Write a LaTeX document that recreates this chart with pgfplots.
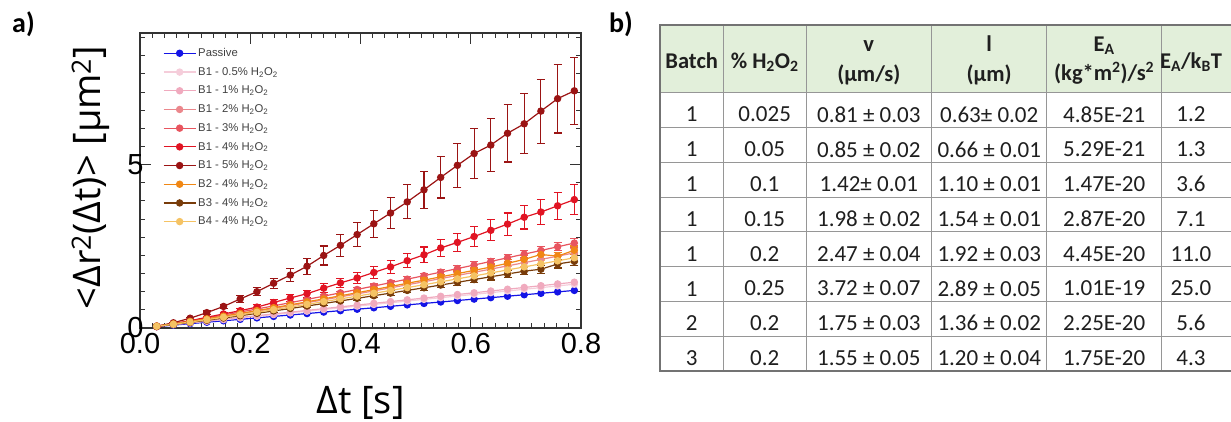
\documentclass[border=0pt]{standalone}
\usepackage{pgfplots}
\pgfplotsset{compat=1.18}
\usepackage{pgfplotstable}
\usepackage{fontspec}
\setmainfont{Carlito}
\newfontfamily\helv{Liberation Sans}
\newfontfamily\osans{Open Sans}

\definecolor{cpas}{RGB}{20,20,230}
\definecolor{cp05}{RGB}{245,205,218}
\definecolor{cp1}{RGB}{240,170,190}
\definecolor{cp2}{RGB}{235,135,140}
\definecolor{cp3}{RGB}{232,85,95}
\definecolor{cp4}{RGB}{225,20,35}
\definecolor{cp5}{RGB}{155,20,20}
\definecolor{cb2}{RGB}{240,135,20}
\definecolor{cb3}{RGB}{120,60,10}
\definecolor{cb4}{RGB}{245,195,100}
\definecolor{hdr}{RGB}{226,239,218}
\definecolor{grid}{RGB}{150,150,150}

\pgfplotstableread{
t pas p05 p1 p2 p3 p4 e4 p5 e5 b2 b3 b4 ec
0.0303 0.044 0.052 0.054 0.056 0.063 0.040 0.010 0.050 0.010 0.058 0.049 0.052 0.005
0.0606 0.088 0.103 0.108 0.124 0.140 0.120 0.015 0.160 0.020 0.128 0.107 0.115 0.007
0.0909 0.133 0.155 0.162 0.196 0.222 0.220 0.025 0.300 0.035 0.203 0.171 0.183 0.011
0.1212 0.177 0.206 0.216 0.272 0.308 0.330 0.035 0.470 0.050 0.282 0.237 0.255 0.015
0.1515 0.221 0.258 0.270 0.351 0.397 0.430 0.045 0.660 0.070 0.363 0.305 0.328 0.020
0.1818 0.265 0.309 0.324 0.432 0.489 0.530 0.060 0.890 0.100 0.447 0.376 0.404 0.024
0.2121 0.310 0.361 0.378 0.515 0.582 0.640 0.070 1.110 0.120 0.533 0.448 0.482 0.029
0.2424 0.354 0.412 0.431 0.600 0.678 0.780 0.085 1.370 0.150 0.621 0.522 0.561 0.034
0.2727 0.398 0.464 0.485 0.686 0.776 0.920 0.100 1.620 0.200 0.710 0.597 0.641 0.039
0.3030 0.442 0.515 0.539 0.774 0.875 1.050 0.110 1.890 0.250 0.801 0.673 0.723 0.044
0.3333 0.487 0.567 0.593 0.863 0.975 1.220 0.130 2.220 0.290 0.893 0.750 0.806 0.049
0.3636 0.531 0.618 0.647 0.953 1.077 1.380 0.140 2.530 0.330 0.986 0.828 0.891 0.054
0.3939 0.575 0.670 0.701 1.044 1.180 1.530 0.160 2.860 0.370 1.080 0.908 0.976 0.059
0.4242 0.619 0.721 0.755 1.136 1.284 1.700 0.180 3.190 0.420 1.175 0.988 1.062 0.064
0.4545 0.664 0.773 0.809 1.229 1.389 1.870 0.200 3.520 0.470 1.271 1.068 1.149 0.069
0.4848 0.708 0.824 0.863 1.323 1.495 2.060 0.220 3.860 0.520 1.369 1.150 1.236 0.075
0.5152 0.752 0.876 0.917 1.417 1.602 2.240 0.240 4.230 0.570 1.466 1.232 1.325 0.080
0.5455 0.796 0.927 0.971 1.512 1.710 2.450 0.250 4.610 0.630 1.565 1.315 1.414 0.085
0.5758 0.841 0.979 1.025 1.609 1.818 2.620 0.280 4.980 0.680 1.665 1.399 1.504 0.090
0.6061 0.885 1.030 1.079 1.705 1.928 2.800 0.300 5.340 0.760 1.765 1.483 1.594 0.096
0.6364 0.929 1.082 1.133 1.803 2.038 2.990 0.320 5.600 0.820 1.866 1.568 1.685 0.100
0.6667 0.973 1.133 1.187 1.901 2.149 3.180 0.340 5.960 0.880 1.980 1.653 1.777 0.107
0.6970 1.018 1.185 1.241 2.000 2.261 3.390 0.360 6.250 0.920 2.100 1.739 1.870 0.113
0.7273 1.062 1.236 1.295 2.099 2.373 3.550 0.380 6.640 0.980 2.250 1.800 1.963 0.119
0.7576 1.106 1.288 1.349 2.199 2.486 3.740 0.410 7.020 1.050 2.200 1.960 2.056 0.124
0.7879 1.150 1.339 1.402 2.300 2.600 3.930 0.450 7.260 1.030 2.380 2.040 2.150 0.130
}\msd

\tikzset{cell/.style={font=\fontsize{23}{23}\selectfont, text=black!88, inner sep=0pt, anchor=center},
  hcell/.style={font=\bfseries\fontsize{22.5}{22.5}\selectfont, text=black!88, inner sep=0pt, anchor=base}}
\newcommand\trow[7]{%
  \node[cell] at (691.7,#1) {#2};
  \node[cell] at (764.7,#1) {#3};
  \node[cell] at (868.8,#1) {#4};
  \node[cell] at (989.2,#1) {#5};
  \node[cell] at (1104.2,#1) {#6};
  \node[cell] at (1191,#1) {#7};}

\begin{document}
\begin{tikzpicture}[x=1pt,y=1pt]
\useasboundingbox (0,0) rectangle (1231,421);
\begin{axis}[
  at={(140pt,93pt)}, anchor=south west,
  scale only axis, width=441pt, height=295pt,
  xmin=0, xmax=0.8, ymin=0, ymax=9.03,
  xtick={0,0.2,0.4,0.6,0.8}, xticklabels={0.0,0.2,0.4,0.6,0.8},
  ytick={0,5}, yticklabels={0,5},
  minor xtick={0,0.02222,...,0.8}, minor ytick={0,0.5556,...,9},
  tick align=inside, major tick length=11pt, minor tick length=5pt,
  every tick/.style={black!80, line width=1pt},
  axis line style={black!80, line width=1.3pt},
  xticklabel style={font=\helv\fontsize{29}{29}\selectfont, yshift=-2pt},
  yticklabel style={font=\helv\fontsize{29}{29}\selectfont, xshift=7pt},
  every axis x label/.style={at={(axis description cs:0.5,0)}, anchor=base, yshift=-85pt},
  every axis y label/.style={at={(axis description cs:-0.0907,0.51)}, rotate=90, anchor=base},
  xlabel={\osans\fontsize{38}{38}\selectfont Δt [s]},
  ylabel={\osans\fontsize{38}{38}\selectfont <Δr\textsuperscript{2}(Δt)> [µm\textsuperscript{2}]},
  legend style={at={(axis description cs:0.045,0.962)}, anchor=north west, draw=none, fill=none,
    font=\helv\fontsize{11.3}{12}\selectfont, text=black!75, row sep=5.3pt},
  legend cell align=left,
  legend image code/.code={\draw[mark repeat=2,mark phase=2,#1] plot coordinates {(0pt,0pt) (16pt,0pt) (32pt,0pt)};},
  every axis plot/.append style={line width=1.2pt, mark=*, mark size=3.1pt},
  error bars/error bar style={line width=1.1pt},
  error bars/error mark options={rotate=90, mark size=4pt, line width=1.1pt},
]
\addplot[cpas, mark options={fill=cpas}] table[x=t,y=pas] {\msd};
\addlegendentry{Passive}
\addplot[cp05, mark options={fill=cp05}] table[x=t,y=p05] {\msd};
\addlegendentry{B1 - 0.5\% H\textsubscript{2}O\textsubscript{2}}
\addplot[cp1, mark options={fill=cp1}] table[x=t,y=p1] {\msd};
\addlegendentry{B1 - 1\% H\textsubscript{2}O\textsubscript{2}}
\addplot[cp2, mark options={fill=cp2}, error bars/.cd, y dir=both, y explicit] table[x=t,y=p2,y error=ec] {\msd};
\addlegendentry{B1 - 2\% H\textsubscript{2}O\textsubscript{2}}
\addplot[cp3, mark options={fill=cp3}, error bars/.cd, y dir=both, y explicit] table[x=t,y=p3,y error=ec] {\msd};
\addlegendentry{B1 - 3\% H\textsubscript{2}O\textsubscript{2}}
\addplot[cp4, mark options={fill=cp4}, error bars/.cd, y dir=both, y explicit] table[x=t,y=p4,y error=e4] {\msd};
\addlegendentry{B1 - 4\% H\textsubscript{2}O\textsubscript{2}}
\addplot[cp5, mark options={fill=cp5}, error bars/.cd, y dir=both, y explicit] table[x=t,y=p5,y error=e5] {\msd};
\addlegendentry{B1 - 5\% H\textsubscript{2}O\textsubscript{2}}
\addplot[cb2, mark options={fill=cb2}, error bars/.cd, y dir=both, y explicit] table[x=t,y=b2,y error=ec] {\msd};
\addlegendentry{B2 - 4\% H\textsubscript{2}O\textsubscript{2}}
\addplot[cb3, mark options={fill=cb3}, error bars/.cd, y dir=both, y explicit] table[x=t,y=b3,y error=ec] {\msd};
\addlegendentry{B3 - 4\% H\textsubscript{2}O\textsubscript{2}}
\addplot[cb4, mark options={fill=cb4}, error bars/.cd, y dir=both, y explicit] table[x=t,y=b4,y error=ec] {\msd};
\addlegendentry{B4 - 4\% H\textsubscript{2}O\textsubscript{2}}
\end{axis}

% panel labels
\node[anchor=base west, inner sep=0pt, font=\bfseries\fontsize{28}{28}\selectfont] at (12,388) {a)};
\node[anchor=base west, inner sep=0pt, font=\bfseries\fontsize{28}{28}\selectfont] at (609,388) {b)};

% table
\fill[hdr] (660,328.3) rectangle (1231,396);
\foreach \yy in {328.3,293.5,258.7,223.9,189.1,154.4,119.6,84.8}
  \draw[grid, line width=0.9pt] (660,\yy) -- (1231,\yy);
\foreach \xx in {723.3,806,931.7,1046.7,1161.7}
  \draw[grid, line width=0.9pt] (\xx,50) -- (\xx,396);
\draw[black!55, line width=1.1pt] (1231,396) -- (660,396) -- (660,50) -- (1231,50);

\node[hcell] at (691.7,352.7) {Batch};
\node[hcell] at (764.7,352.7) {\% H\textsubscript{2}O\textsubscript{2}};
\node[hcell] at (868.8,369.3) {v};
\node[hcell] at (868.8,339.5) {(µm/s)};
\node[hcell] at (989.2,369.3) {l};
\node[hcell] at (989.2,339.5) {(µm)};
\node[hcell] at (1104.2,369.3) {E\textsubscript{A}};
\node[hcell] at (1104.2,340.5) {(kg*m\textsuperscript{2})/s\textsuperscript{2}};
\node[hcell] at (1191,352.7) {E\textsubscript{A}/k\textsubscript{B}T};

\trow{306.4}{1}{0.025}{0.81 ± 0.03}{0.63± 0.02}{4.85E-21}{1.2}
\trow{271.6}{1}{0.05}{0.85 ± 0.02}{0.66 ± 0.01}{5.29E-21}{1.3}
\trow{236.8}{1}{0.1}{1.42± 0.01}{1.10 ± 0.01}{1.47E-20}{3.6}
\trow{202.0}{1}{0.15}{1.98 ± 0.02}{1.54 ± 0.01}{2.87E-20}{7.1}
\trow{167.2}{1}{0.2}{2.47 ± 0.04}{1.92 ± 0.03}{4.45E-20}{11.0}
\trow{132.4}{1}{0.25}{3.72 ± 0.07}{2.89 ± 0.05}{1.01E-19}{25.0}
\trow{97.7}{2}{0.2}{1.75 ± 0.03}{1.36 ± 0.02}{2.25E-20}{5.6}
\trow{62.9}{3}{0.2}{1.55 ± 0.05}{1.20 ± 0.04}{1.75E-20}{4.3}
\end{tikzpicture}
\end{document}
